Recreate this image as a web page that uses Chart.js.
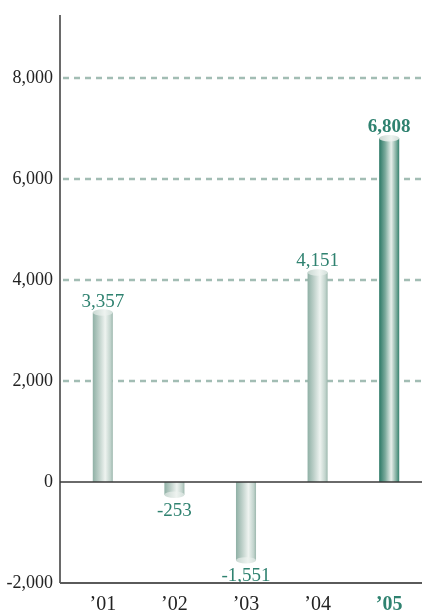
<!DOCTYPE html>
<html>
<head>
<meta charset="utf-8">
<script src="https://cdn.jsdelivr.net/npm/chart.js@4/dist/chart.umd.min.js"></script>
<style>
  html, body { margin: 0; padding: 0; background: #ffffff; overflow: hidden; }
  #wrap { width: 425px; height: 611px; }
</style>
</head>
<body>
<div id="wrap"><canvas id="c"></canvas></div>
<script>
// Net income by fiscal year
const categories = ['\u201901', '\u201902', '\u201903', '\u201904', '\u201905'];
const values = [3357, -253, -1551, 4151, 6808];
const yTicks = [-2000, 0, 2000, 4000, 6000, 8000];
const highlightIndex = 4;

const SERIF = '"Liberation Serif", "DejaVu Serif", serif';
const TEAL = '#2f8270';
const fmt = v => v.toLocaleString('en-US');

// Cylinder bars, grid and axis lines drawn from the chart's own scales/elements
const cylinderPlugin = {
  id: 'cylinders',
  beforeDatasetsDraw(chart) {
    const { ctx, scales: { y } } = chart;
    const left = 60, right = chart.width;
    ctx.save();
    ctx.strokeStyle = '#a2bdb4';
    ctx.lineWidth = 2.5;
    ctx.setLineDash([6, 5]);
    yTicks.filter(t => t > 0).forEach(t => {
      const py = Math.round(y.getPixelForValue(t));
      ctx.beginPath();
      ctx.moveTo(left + 3, py);
      ctx.lineTo(right, py);
      ctx.stroke();
    });
    ctx.restore();
  },
  afterDatasetsDraw(chart) {
    const { ctx, scales: { y } } = chart;
    const meta = chart.getDatasetMeta(0);
    meta.data.forEach((bar, i) => {
      const v = values[i];
      const hi = i === highlightIndex;
      const w = bar.width, x0 = bar.x - w / 2, x1 = bar.x + w / 2;
      const base = bar.base, end = bar.y;
      const g = ctx.createLinearGradient(x0, 0, x1, 0);
      if (hi) {
        g.addColorStop(0, '#2a7865');
        g.addColorStop(0.3, '#7aaa9c');
        g.addColorStop(0.6, '#e8efeb');
        g.addColorStop(0.85, '#7fae9f');
        g.addColorStop(1, '#35826f');
      } else {
        g.addColorStop(0, '#8fb0a5');
        g.addColorStop(0.3, '#bccfc8');
        g.addColorStop(0.62, '#eef3f0');
        g.addColorStop(0.88, '#c2d4cd');
        g.addColorStop(1, '#9db8ae');
      }
      ctx.save();
      ctx.fillStyle = g;
      ctx.fillRect(x0, Math.min(base, end), w, Math.abs(base - end));
      // end cap
      ctx.beginPath();
      ctx.ellipse(bar.x, end, w / 2, 3.2, 0, 0, Math.PI * 2);
      const cg = ctx.createLinearGradient(x0, 0, x1, 0);
      cg.addColorStop(0, '#c9d8d2');
      cg.addColorStop(0.6, '#eef3f0');
      cg.addColorStop(1, '#d2dfda');
      ctx.fillStyle = cg;
      ctx.fill();
      ctx.restore();

      // value label
      ctx.save();
      ctx.fillStyle = TEAL;
      ctx.textAlign = 'center';
      ctx.textBaseline = 'alphabetic';
      ctx.font = (hi ? 'bold ' : '') + '19px ' + SERIF;
      const ly = v >= 0 ? end - 6 : end + 21;
      ctx.fillText(fmt(v), bar.x, ly);
      ctx.restore();
    });

    // axis lines
    const left = 60, right = chart.width;
    const top = chart.chartArea.top, bottom = y.getPixelForValue(yTicks[0]);
    const zero = y.getPixelForValue(0);
    ctx.save();
    ctx.strokeStyle = '#3a3a3a';
    ctx.lineWidth = 1.5;
    ctx.beginPath();
    ctx.moveTo(left, top);
    ctx.lineTo(left, bottom);
    ctx.moveTo(left, zero);
    ctx.lineTo(right, zero);
    ctx.stroke();
    ctx.strokeStyle = '#5a5a5a';
    ctx.lineWidth = 2;
    ctx.beginPath();
    ctx.moveTo(left, bottom);
    ctx.lineTo(right, bottom);
    ctx.stroke();
    ctx.restore();
  }
};

new Chart(document.getElementById('c'), {
  type: 'bar',
  data: {
    labels: categories,
    datasets: [{
      data: values,
      backgroundColor: 'rgba(0,0,0,0)',
      borderWidth: 0,
      categoryPercentage: 1,
      barPercentage: 0.28
    }]
  },
  options: {
    responsive: true,
    maintainAspectRatio: false,
    animation: false,
    layout: { padding: { top: 15, left: 0, right: 0, bottom: 0 } },
    plugins: { legend: { display: false }, tooltip: { enabled: false } },
    scales: {
      x: {
        offset: true,
        grid: { display: false, drawTicks: false },
        border: { display: false },
        afterFit: s => { s.height = 28; s.paddingLeft = 0; s.paddingRight = 0; },
        ticks: {
          padding: 10,
          font: ctx => ({ family: SERIF, size: 20, weight: ctx.index === highlightIndex ? 'bold' : 'normal' }),
          color: ctx => ctx.index === highlightIndex ? TEAL : '#222222'
        }
      },
      y: {
        min: -2000,
        max: 9250,
        afterFit: s => { s.width = 67; s.paddingTop = 0; s.paddingBottom = 0; },
        afterBuildTicks: s => { s.ticks = yTicks.map(v => ({ value: v })); },
        grid: { display: false, drawTicks: false },
        border: { display: false },
        ticks: {
          padding: 14,
          font: { family: SERIF, size: 18 },
          color: '#222222',
          callback: v => fmt(v)
        }
      }
    }
  },
  plugins: [cylinderPlugin]
});
</script>
</body>
</html>
